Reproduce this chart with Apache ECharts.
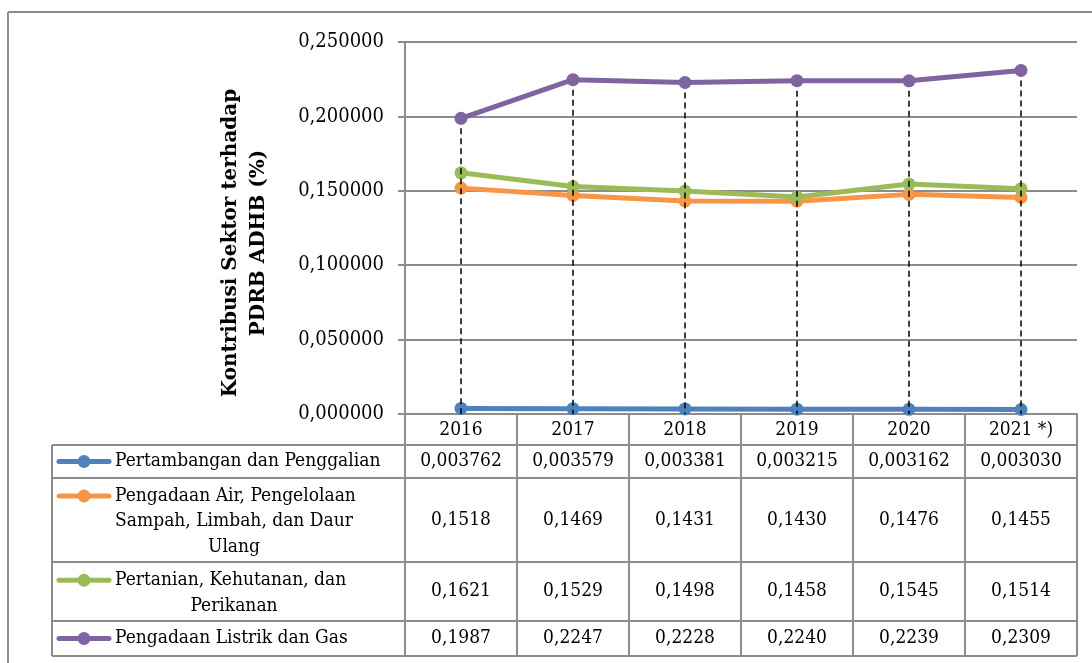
<!DOCTYPE html>
<html><head><meta charset="utf-8">
<script src="https://cdn.jsdelivr.net/npm/echarts@6/dist/echarts.min.js"></script>
<style>html,body{margin:0;padding:0;background:#fff}#c{width:1092px;height:663px}</style>
</head><body><div id="c"></div>
<script>
// ---- data ----
const years = ['2016', '2017', '2018', '2019', '2020', '2021 *)'];
const pertambangan = [0.003762, 0.003579, 0.003381, 0.003215, 0.003162, 0.003030];
const pengadaanAir = [0.1518, 0.1469, 0.1431, 0.1430, 0.1476, 0.1455];
const pertanian = [0.1621, 0.1529, 0.1498, 0.1458, 0.1545, 0.1514];
const listrikGas = [0.1987, 0.2247, 0.2228, 0.2240, 0.2239, 0.2309];
const seriesNames = [
  ['Pertambangan dan Penggalian'],
  ['Pengadaan Air, Pengelolaan', 'Sampah, Limbah, dan Daur', 'Ulang'],
  ['Pertanian, Kehutanan, dan', 'Perikanan'],
  ['Pengadaan Listrik dan Gas']
];
const tableDecimals = [6, 4, 4, 4];
const yTickValues = [0, 0.05, 0.10, 0.15, 0.20, 0.25];
const yTitle = 'Kontribusi Sektor terhadap\nPDRB ADHB (%)';

// ---- styles ----
const allSeries = [pertambangan, pengadaanAir, pertanian, listrikGas];
const colors = ['#4F81BD', '#F79646', '#9BBB59', '#8064A2'];
const FONT = '"DejaVu Serif Condensed", "DejaVu Serif", serif';
const FS = 19;
const GRID = '#8c8c8c';
const fmt = (v, d) => v.toFixed(d).replace('.', ',');

const dropData = years.map((_, i) => {
  const top = Math.max(...allSeries.map(s => s[i]));
  return [{ coord: [i, top] }, { coord: [i, 0] }];
});

const chart = echarts.init(document.getElementById('c'), null, { renderer: 'canvas' });
const option = {
  animation: false,
  backgroundColor: '#fff',
  textStyle: { fontFamily: FONT },
  grid: { left: 405, right: 15, top: 42, bottom: 249, containLabel: false },
  xAxis: {
    type: 'category', data: years, boundaryGap: true,
    axisLine: { show: true, lineStyle: { color: GRID, width: 2 } },
    axisTick: { show: false },
    axisLabel: { show: true, margin: 7, color: '#000', fontFamily: FONT, fontSize: FS },
    splitLine: { show: false }
  },
  yAxis: {
    type: 'value', min: yTickValues[0], max: yTickValues[yTickValues.length - 1],
    interval: yTickValues[1] - yTickValues[0],
    name: yTitle, nameLocation: 'middle', nameRotate: 90, nameGap: 132,
    nameTextStyle: { fontFamily: '"DejaVu Serif", serif', fontSize: 20, fontWeight: 'bold', color: '#000', lineHeight: 28, padding: [0, 30, 0, 0] },
    axisLine: { show: true, lineStyle: { color: GRID, width: 2 } },
    axisTick: { show: true, length: 7, lineStyle: { color: GRID, width: 2 } },
    axisLabel: { margin: 21, color: '#000', fontFamily: FONT, fontSize: 20, formatter: v => fmt(v, 6) },
    splitLine: { show: true, lineStyle: { color: GRID, width: 2 } }
  },
  series: allSeries.map((s, k) => ({
    type: 'line', data: s, name: seriesNames[k].join(' '),
    symbol: 'circle', symbolSize: 13, showAllSymbol: true,
    lineStyle: { color: colors[k], width: 5 },
    itemStyle: { color: colors[k] },
    z: 2 + k,
    markLine: k === allSeries.length - 1 ? {
      silent: true, symbol: ['none', 'none'], label: { show: false },
      lineStyle: { color: '#000', width: 1.5, type: [6, 4] },
      emphasis: { disabled: true },
      data: dropData
    } : undefined
  }))
};
chart.setOption(option);

// ---- data table below the chart ----
const xs = years.map((_, i) => chart.convertToPixel({ xAxisIndex: 0 }, i));
const step = xs[1] - xs[0];
const axisY = chart.convertToPixel({ yAxisIndex: 0 }, 0);
const tableLeft = 52;
const plotLeft = xs[0] - step / 2;
const plotRight = xs[xs.length - 1] + step / 2;
const rowBounds = [axisY + 31, axisY + 64, axisY + 148, axisY + 207, axisY + 242];
const lineH = 25.5;
const g = [];
const L = (x1, y1, x2, y2) => g.push({ type: 'line', shape: { x1, y1, x2, y2 }, style: { stroke: GRID, lineWidth: 2 }, silent: true, z: 1 });

// outer frame
L(8, 12, 1092, 12);
L(8, 12, 8, 663);
// header row top + vertical lines
L(plotLeft, axisY, plotRight, axisY);
for (let i = 0; i <= years.length; i++) {
  const x = plotLeft + i * step;
  L(x, axisY, x, rowBounds[rowBounds.length - 1]);
}
rowBounds.forEach(y => L(tableLeft, y, plotRight, y));
L(tableLeft, rowBounds[0], tableLeft, rowBounds[rowBounds.length - 1]);

allSeries.forEach((s, k) => {
  const top = rowBounds[k], bot = rowBounds[k + 1];
  const mid = (top + bot) / 2;
  const lines = seriesNames[k];
  const firstY = mid - (lines.length - 1) * lineH / 2 + (lines.length > 1 ? 1.5 : 0);
  // legend key
  g.push({ type: 'line', shape: { x1: 59, y1: firstY, x2: 109, y2: firstY }, style: { stroke: colors[k], lineWidth: 5, lineCap: 'round' }, silent: true, z: 2 });
  g.push({ type: 'circle', shape: { cx: 84, cy: firstY, r: 6.5 }, style: { fill: colors[k] }, silent: true, z: 3 });
  lines.forEach((t, j) => {
    g.push({
      type: 'text', silent: true, z: 2,
      x: j === 0 ? 115 : 234, y: firstY + j * lineH,
      style: { text: t, fill: '#000', font: FS + 'px ' + FONT, align: j === 0 ? 'left' : 'center', verticalAlign: 'middle' }
    });
  });
  s.forEach((v, i) => {
    g.push({
      type: 'text', silent: true, z: 2,
      x: xs[i], y: mid,
      style: { text: fmt(v, tableDecimals[k]), fill: '#000', font: FS + 'px ' + FONT, align: 'center', verticalAlign: 'middle' }
    });
  });
});
chart.setOption({ graphic: { elements: g } });
</script>
</body></html>
